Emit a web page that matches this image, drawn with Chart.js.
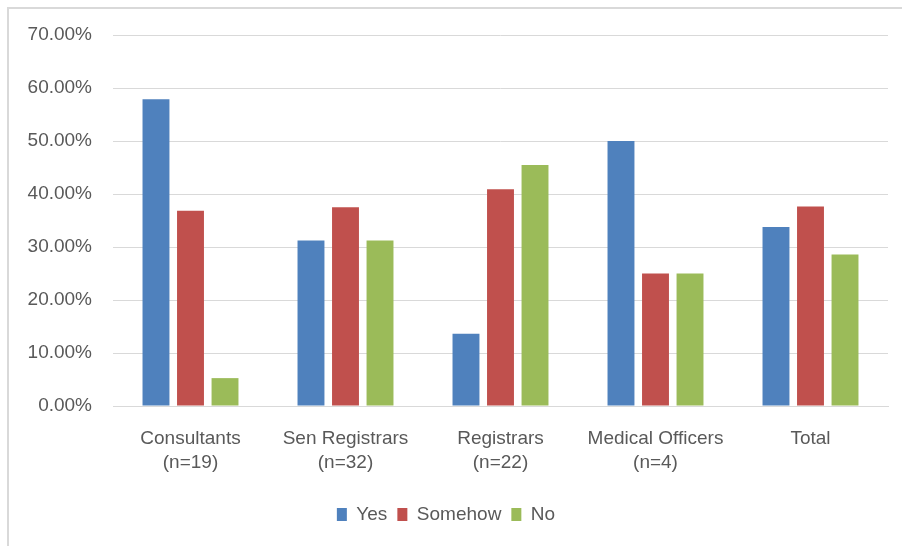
<!DOCTYPE html>
<html>
<head>
<meta charset="utf-8">
<script src="https://cdn.jsdelivr.net/npm/chart.js@4/dist/chart.umd.min.js"></script>
<style>
  html, body { margin: 0; padding: 0; background: #ffffff; }
  #wrap { position: relative; width: 902px; height: 546px; }
</style>
</head>
<body>
<div id="wrap"><canvas id="c" width="902" height="546"></canvas></div>
<script>
const categories = [
  ["Consultants", "(n=19)"],
  ["Sen Registrars", "(n=32)"],
  ["Registrars", "(n=22)"],
  ["Medical Officers", "(n=4)"],
  ["Total"]
];
const seriesNames = ["Yes", "Somehow", "No"];
const yesValues = [57.89, 31.25, 13.64, 50.00, 33.77];
const somehowValues = [36.84, 37.50, 40.91, 25.00, 37.66];
const noValues = [5.26, 31.25, 45.45, 25.00, 28.57];
const yTicks = [0, 10, 20, 30, 40, 50, 60, 70];

const colors = ["#4F81BD", "#C0504D", "#9BBB59"];
const textColor = "#595959";
const gridColor = "#d9d9d9";
const fontFamily = "'Liberation Sans', Arial, sans-serif";

const frame = {
  id: 'frame',
  beforeDraw(chart) {
    const ctx = chart.ctx;
    ctx.save();
    ctx.fillStyle = '#ffffff';
    ctx.fillRect(0, 0, chart.width, chart.height);
    ctx.strokeStyle = gridColor;
    ctx.lineWidth = 2;
    ctx.beginPath();
    ctx.moveTo(8, chart.height);
    ctx.lineTo(8, 8);
    ctx.lineTo(chart.width, 8);
    ctx.stroke();
    ctx.restore();
  }
};

new Chart(document.getElementById('c'), {
  type: 'bar',
  data: {
    labels: categories,
    datasets: [
      { label: seriesNames[0], data: yesValues, backgroundColor: colors[0] },
      { label: seriesNames[1], data: somehowValues, backgroundColor: colors[1] },
      { label: seriesNames[2], data: noValues, backgroundColor: colors[2] }
    ]
  },
  options: {
    responsive: false,
    animation: false,
    devicePixelRatio: 1,
    datasets: { bar: { categoryPercentage: 0.668, barPercentage: 0.78 } },
    layout: { padding: { top: 35, left: 4, right: 14, bottom: 12 } },
    plugins: {
      tooltip: { enabled: false },
      legend: {
        position: 'bottom',
        labels: {
          color: textColor,
          font: { family: fontFamily, size: 19 },
          boxWidth: 10,
          boxHeight: 13,
          padding: 10
        }
      }
    },
    scales: {
      x: {
        grid: { display: false, drawTicks: false },
        border: { display: true, color: gridColor, width: 1 },
        ticks: {
          color: textColor,
          font: { family: fontFamily, size: 19, lineHeight: 1.3 },
          padding: 20,
          maxRotation: 0,
          autoSkip: false
        },
        afterFit(scale) { scale.height = 89; }
      },
      y: {
        min: 0,
        max: 70,
        grid: { color: gridColor, lineWidth: 1, drawTicks: false },
        border: { display: false },
        afterBuildTicks(scale) { scale.ticks = yTicks.map(v => ({ value: v })); },
        ticks: {
          color: textColor,
          font: { family: fontFamily, size: 19 },
          padding: 21,
          callback: v => Number(v).toFixed(2) + '%'
        },
        afterFit(scale) { scale.width = 109; }
      }
    }
  },
  plugins: [frame]
});
</script>
</body>
</html>
